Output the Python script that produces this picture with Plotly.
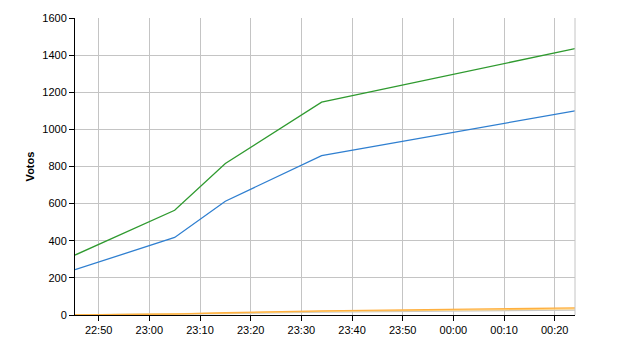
import plotly.graph_objects as go

times = ["2011-05-22 22:45:20", "2011-05-22 23:05:00", "2011-05-22 23:15:00",
         "2011-05-22 23:34:00", "2011-05-23 00:24:00"]
green_votes = [323, 564, 816, 1147, 1435]
blue_votes = [244, 418, 613, 859, 1100]
orange_votes = [0, 5, 12, 22, 38]
yellow_votes = [0, 4, 10, 19, 33]
gray_votes = [0, 3, 8, 15, 26]

series = [
    ("gray", gray_votes, "#c8c8c8"),
    ("yellow", yellow_votes, "#ffd27a"),
    ("orange", orange_votes, "#ffb040"),
    ("blue", blue_votes, "#2f7fd0"),
    ("green", green_votes, "#2f9a2f"),
]

fig = go.Figure()
for name, vals, col in series:
    fig.add_trace(go.Scatter(x=times, y=vals, mode="lines", name=name,
                             line=dict(color=col, width=1.3), showlegend=False))

fig.update_layout(
    width=640, height=350,
    margin=dict(l=75, r=65, t=15, b=35),
    paper_bgcolor="white", plot_bgcolor="white",
    font=dict(family="Liberation Sans, Arial, sans-serif", size=11, color="black"),
    xaxis=dict(
        type="date",
        range=["2011-05-22 22:45:20", "2011-05-23 00:24:00"],
        tick0="2011-05-22 22:50:00", dtick=600000, tickformat="%H:%M",
        showgrid=True, gridcolor="#c4c4c4", gridwidth=1,
        showline=True, linecolor="black", linewidth=1,
        ticks="outside", ticklen=5, tickcolor="black",
        zeroline=False,
    ),
    yaxis=dict(
        range=[0, 1600], dtick=200,
        showgrid=True, gridcolor="#c4c4c4", gridwidth=1,
        showline=True, linecolor="black", linewidth=1,
        ticks="outside", ticklen=5, tickcolor="black",
        zeroline=False,
        title=dict(text="<b>Votos</b>", font=dict(size=11), standoff=5),
    ),
)
fig.add_shape(type="line", xref="paper", yref="paper", x0=1, x1=1, y0=0, y1=1,
              line=dict(color="#c4c4c4", width=1))

fig.write_html("out.html")
